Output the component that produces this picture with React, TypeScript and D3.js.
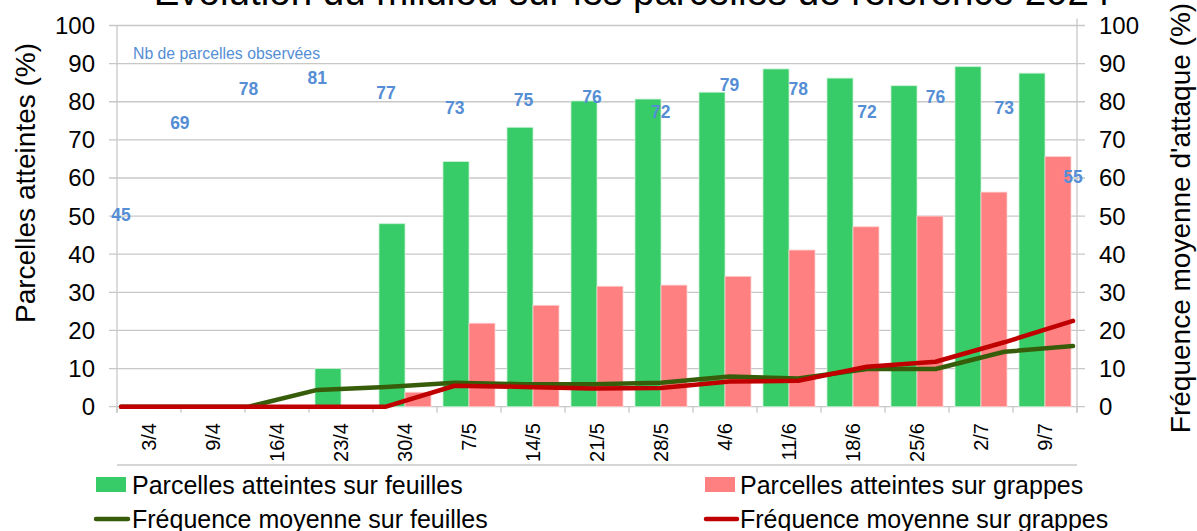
import React from "react";
import * as d3 from "d3";

const categories = ["3/4","9/4","16/4","23/4","30/4","7/5","14/5","21/5","28/5","4/6","11/6","18/6","25/6","2/7","9/7"];
const dates = ["2024-04-03","2024-04-09","2024-04-16","2024-04-23","2024-04-30","2024-05-07","2024-05-14","2024-05-21","2024-05-28","2024-06-04","2024-06-11","2024-06-18","2024-06-25","2024-07-02","2024-07-09"];
const parcellesFeuilles = [0,0,0,10,48,64.3,73.3,80.2,80.7,82.5,88.6,86.2,84.2,89.2,87.5];
const parcellesGrappes = [0,0,0,0,3.8,21.9,26.6,31.6,31.9,34.2,41.1,47.2,50,56.3,65.6];
const freqFeuilles = [0,0,0,4.4,5.2,6.3,5.9,5.9,6.3,7.9,7.4,9.9,9.9,14.4,15.9];
const freqGrappes = [0,0,0,0,0,5.5,5.2,4.8,4.9,6.6,6.8,10.5,11.8,16.9,22.5];
const nbParcelles = [45,69,78,81,77,73,75,76,72,79,78,72,76,73,55];
const yTicks = [0,10,20,30,40,50,60,70,80,90,100];

const W = 1197, H = 531;
const X0 = 117, X1 = 1077, Y0 = 406.7, Y1 = 25.5;
const FONT = "'Liberation Sans', Arial, sans-serif";
const GREEN = "#37CC67", PINK = "#FF8080", DKGREEN = "#385D0A", RED = "#C00000", BLUE = "#558ED5";
const GRID = "#C8C8C8";

export default function App() {
  const y = d3.scaleLinear().domain([0, 100]).range([Y0, Y1]);
  const x = d3.scaleBand<string>().domain(categories).range([X0, X1]).paddingInner(0.1875).paddingOuter(0.09375);
  const parse = d3.timeParse("%Y-%m-%d");
  const dt = dates.map((s) => parse(s) as Date);
  const xt = d3.scaleTime().domain([dt[0], dt[dt.length - 1]]).range([121, 1073]);
  const bw = x.bandwidth() / 2;
  const step = x.step();

  const line = d3.line<number>().x((_, i) => xt(dt[i])).y((v) => y(v));

  return (
    <div style={{ position: "absolute", left: 0, top: 0 }}>
      <svg width={W} height={H} style={{ display: "block", fontFamily: FONT }}>
        <rect x={0} y={0} width={W} height={H} fill="#fff" />
        <text x={632} y={4.5} fontSize={38.5} textAnchor="middle" fill="#000">
          Évolution du mildiou sur les parcelles de référence 2024
        </text>
        {yTicks.map((t) => (
          <line key={"g" + t} x1={X0 - 8} x2={X1 + 8} y1={y(t)} y2={y(t)} stroke={GRID} strokeWidth={1.3} />
        ))}
        <line x1={X0} x2={X0} y1={Y1} y2={Y0 + 6} stroke={GRID} strokeWidth={1.3} />
        <line x1={X1} x2={X1} y1={Y1 - 7} y2={Y0 + 6} stroke={GRID} strokeWidth={1.3} />
        {d3.range(categories.length + 1).map((i) => (
          <line key={"ct" + i} x1={X0 + i * step} x2={X0 + i * step} y1={Y0} y2={Y0 + 6} stroke={GRID} strokeWidth={1.3} />
        ))}
        <line x1={X0} x2={X1} y1={465} y2={465} stroke={GRID} strokeWidth={1.3} />
        {yTicks.map((t) => (
          <text key={"l" + t} x={95} y={y(t)} dy="0.35em" fontSize={24} textAnchor="end" fill="#000">{t}</text>
        ))}
        {yTicks.map((t) => (
          <text key={"r" + t} x={1099} y={y(t)} dy="0.35em" fontSize={24} textAnchor="start" fill="#000">{t}</text>
        ))}
        {categories.map((c) => {
          const cx = (x(c) as number) + x.bandwidth() / 2;
          return (
            <text key={"c" + c} transform={`translate(${cx + 7},423) rotate(-90)`} fontSize={20} textAnchor="end" fill="#000">{c}</text>
          );
        })}
        <text transform={`translate(35,183) rotate(-90)`} fontSize={28} textAnchor="middle" fill="#000">Parcelles atteintes (%)</text>
        <text transform={`translate(1190,218) rotate(-90)`} fontSize={28} textAnchor="middle" fill="#000">Fréquence moyenne d'attaque (%)</text>
        {categories.map((c, i) => (
          <g key={"b" + c}>
            {parcellesFeuilles[i] > 0 && (
              <rect x={x(c) as number} y={y(parcellesFeuilles[i])} width={bw} height={Y0 - y(parcellesFeuilles[i])} fill={GREEN} stroke="#C8F0D4" strokeWidth={0.8} />
            )}
            {parcellesGrappes[i] > 0 && (
              <rect x={(x(c) as number) + bw} y={y(parcellesGrappes[i])} width={bw} height={Y0 - y(parcellesGrappes[i])} fill={PINK} stroke="#FFD0D0" strokeWidth={0.8} />
            )}
          </g>
        ))}
        <path d={line(freqFeuilles) || ""} fill="none" stroke={DKGREEN} strokeWidth={4.5} strokeLinejoin="round" strokeLinecap="round" />
        <path d={line(freqGrappes) || ""} fill="none" stroke={RED} strokeWidth={4.5} strokeLinejoin="round" strokeLinecap="round" />
        <text x={133} y={58.5} fontSize={15.8} fill={BLUE}>Nb de parcelles observées</text>
        {nbParcelles.map((n, i) => (
          <text key={"n" + i} x={xt(dt[i])} y={y(n) - 20.5} dy="0.35em" fontSize={17.5} fontWeight="bold" textAnchor="middle" fill={BLUE}>{n}</text>
        ))}
        <rect x={96} y={477} width={30} height={15} fill={GREEN} />
        <text x={132} y={494} fontSize={25} fill="#000">Parcelles atteintes sur feuilles</text>
        <rect x={705} y={477} width={30} height={15} fill={PINK} />
        <text x={740} y={494} fontSize={25} fill="#000">Parcelles atteintes sur grappes</text>
        <line x1={96} x2={128} y1={519} y2={519} stroke={DKGREEN} strokeWidth={4.5} strokeLinecap="round" />
        <text x={132} y={528} fontSize={25} fill="#000">Fréquence moyenne sur feuilles</text>
        <line x1={706} x2={737} y1={519} y2={519} stroke={RED} strokeWidth={4.5} strokeLinecap="round" />
        <text x={740} y={528} fontSize={25} fill="#000">Fréquence moyenne sur grappes</text>
      </svg>
    </div>
  );
}
